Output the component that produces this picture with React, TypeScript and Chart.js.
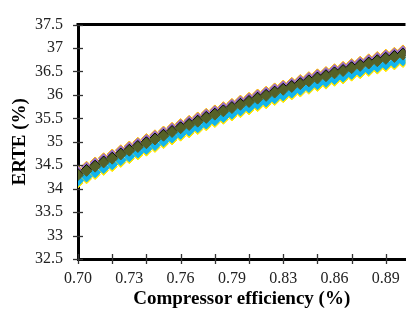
import React, { useEffect, useRef } from "react";
import { Chart, registerables } from "chart.js";

Chart.register(...registerables);

// x positions are category indices (one point per index)
const xLabelPos = [0, 6, 12, 18, 24, 30, 36];
const xLabels = ["0.70", "0.73", "0.76", "0.79", "0.83", "0.86", "0.89"];
const xTickMarks = [0, 4, 8, 12, 16, 20, 24, 28, 32, 36];
const yTickValues = [32.5, 33, 33.5, 34, 34.5, 35, 35.5, 36, 36.5, 37, 37.5];

const seriesOrange = [34.39, 34.48, 34.57, 34.66, 34.74, 34.83, 34.91, 34.99, 35.07, 35.15, 35.23, 35.31, 35.39, 35.46, 35.53, 35.61, 35.68, 35.75, 35.82, 35.89, 35.95, 36.02, 36.08, 36.15, 36.21, 36.27, 36.33, 36.39, 36.45, 36.50, 36.56, 36.61, 36.67, 36.72, 36.77, 36.82, 36.87, 36.91, 36.96];
const seriesPurple = [34.37, 34.46, 34.55, 34.64, 34.72, 34.81, 34.89, 34.97, 35.05, 35.13, 35.21, 35.29, 35.37, 35.44, 35.51, 35.59, 35.66, 35.73, 35.80, 35.87, 35.93, 36.00, 36.06, 36.13, 36.19, 36.25, 36.31, 36.37, 36.43, 36.48, 36.54, 36.59, 36.65, 36.70, 36.75, 36.80, 36.85, 36.89, 36.94];
const seriesBlack = [34.32, 34.41, 34.50, 34.59, 34.67, 34.76, 34.84, 34.92, 35.00, 35.08, 35.16, 35.24, 35.32, 35.39, 35.46, 35.54, 35.61, 35.68, 35.75, 35.82, 35.88, 35.95, 36.01, 36.08, 36.14, 36.20, 36.26, 36.32, 36.38, 36.43, 36.49, 36.54, 36.60, 36.65, 36.70, 36.75, 36.80, 36.84, 36.89];
const seriesGreen = [34.29, 34.38, 34.47, 34.56, 34.64, 34.73, 34.81, 34.89, 34.97, 35.05, 35.13, 35.21, 35.29, 35.36, 35.43, 35.51, 35.58, 35.65, 35.72, 35.79, 35.85, 35.92, 35.98, 36.05, 36.11, 36.17, 36.23, 36.29, 36.35, 36.40, 36.46, 36.51, 36.57, 36.62, 36.67, 36.72, 36.77, 36.81, 36.86];
const seriesCyan = [34.17, 34.26, 34.35, 34.44, 34.52, 34.61, 34.69, 34.77, 34.85, 34.93, 35.01, 35.09, 35.17, 35.24, 35.31, 35.39, 35.46, 35.53, 35.60, 35.67, 35.73, 35.80, 35.86, 35.93, 35.99, 36.05, 36.11, 36.17, 36.23, 36.28, 36.34, 36.39, 36.45, 36.50, 36.55, 36.60, 36.65, 36.69, 36.74];
const seriesYellow = [34.12, 34.21, 34.30, 34.39, 34.47, 34.56, 34.64, 34.72, 34.80, 34.88, 34.96, 35.04, 35.12, 35.19, 35.26, 35.34, 35.41, 35.48, 35.55, 35.62, 35.68, 35.75, 35.81, 35.88, 35.94, 36.00, 36.06, 36.12, 36.18, 36.23, 36.29, 36.34, 36.40, 36.45, 36.50, 36.55, 36.60, 36.64, 36.69];

const FAMILY = "'Liberation Serif', 'Times New Roman', serif";

const frameTicks = {
  id: "frameTicks",
  afterDraw(chart: any) {
    const { ctx, chartArea, scales } = chart;
    ctx.save();
    ctx.strokeStyle = "#000";
    ctx.lineWidth = 3;
    ctx.beginPath();
    ctx.moveTo(chartArea.left - 1.5, chartArea.top);
    ctx.lineTo(chartArea.right, chartArea.top);
    ctx.stroke();
    ctx.strokeStyle = "#333";
    ctx.lineWidth = 1.3;
    yTickValues.forEach((v) => {
      const y = Math.round(scales.y.getPixelForValue(v)) + 0.5;
      ctx.beginPath();
      ctx.moveTo(chartArea.left - 5, y);
      ctx.lineTo(chartArea.left + 5, y);
      ctx.stroke();
    });
    xTickMarks.forEach((v) => {
      const x = Math.round(scales.x.getPixelForValue(v)) + 0.5;
      ctx.beginPath();
      ctx.moveTo(x, chartArea.bottom - 5);
      ctx.lineTo(x, chartArea.bottom + 5);
      ctx.stroke();
    });
    ctx.restore();
  },
};

function ds(label: string, values: number[], color: string, order: number, r: number) {
  return {
    label,
    data: values.map((y, i) => ({ x: i, y })),
    pointStyle: "rectRot",
    pointRadius: r,
    pointBackgroundColor: color,
    pointBorderColor: color,
    pointBorderWidth: 1,
    showLine: false,
    order,
  };
}

export default function App() {
  const ref = useRef<HTMLCanvasElement>(null);
  useEffect(() => {
    if (!ref.current) return;
    const chart = new Chart(ref.current, {
      type: "scatter",
      data: {
        datasets: [
          ds("A", seriesOrange, "#FFB800", 5, 5),
          ds("B", seriesPurple, "#9A6FC8", 4, 5),
          ds("C", seriesYellow, "#FFE600", 3, 5),
          ds("D", seriesCyan, "#12B4EE", 2, 5.5),
          ds("E", seriesBlack, "#000000", 1, 5),
          ds("F", seriesGreen, "#556128", 0, 5.5),
        ] as any,
      },
      options: {
        animation: false,
        responsive: false,
        devicePixelRatio: 1,
        layout: { padding: { top: 17, left: 0, right: 0, bottom: 0 } },
        plugins: { legend: { display: false }, tooltip: { enabled: false } },
        scales: {
          x: {
            type: "linear",
            min: 0,
            max: 38.3,
            grid: { display: false, drawTicks: false },
            border: { display: true, color: "#000", width: 3 },
            afterBuildTicks: (s: any) => {
              s.ticks = xLabelPos.map((v) => ({ value: v }));
            },
            afterFit: (s: any) => {
              s.height = 54;
            },
            ticks: {
              padding: 10,
              color: "#222",
              autoSkip: false,
              maxRotation: 0,
              font: { family: FAMILY, size: 16 },
              callback: (v: any) => {
                const k = xLabelPos.indexOf(Number(v));
                return k >= 0 ? xLabels[k] : "";
              },
            },
            title: {
              display: true,
              text: "Compressor efficiency (%)",
              color: "#000",
              font: { family: FAMILY, size: 19, weight: "bold" },
              padding: { top: 0, bottom: 3 },
            },
          },
          y: {
            min: 32.5,
            max: 37.5,
            grid: { display: false, drawTicks: false },
            border: { display: true, color: "#000", width: 3 },
            afterFit: (s: any) => {
              s.width = 78;
            },
            ticks: {
              stepSize: 0.5,
              padding: 15,
              color: "#222",
              font: { family: FAMILY, size: 16 },
              callback: (v: any) => String(v),
            },
            title: {
              display: true,
              text: "ERTE (%)",
              color: "#000",
              font: { family: FAMILY, size: 19, weight: "bold" },
              padding: { top: 9, bottom: 0 },
            },
          },
        },
      } as any,
      plugins: [frameTicks],
    });
    return () => chart.destroy();
  }, []);
  return (
    <div
      style={{
        position: "absolute",
        left: 0,
        top: 0,
        width: 406,
        height: 313,
        overflow: "hidden",
        background: "#fff",
      }}
    >
      <canvas ref={ref} width={412} height={313} style={{ display: "block", width: 412, height: 313 }} />
    </div>
  );
}
